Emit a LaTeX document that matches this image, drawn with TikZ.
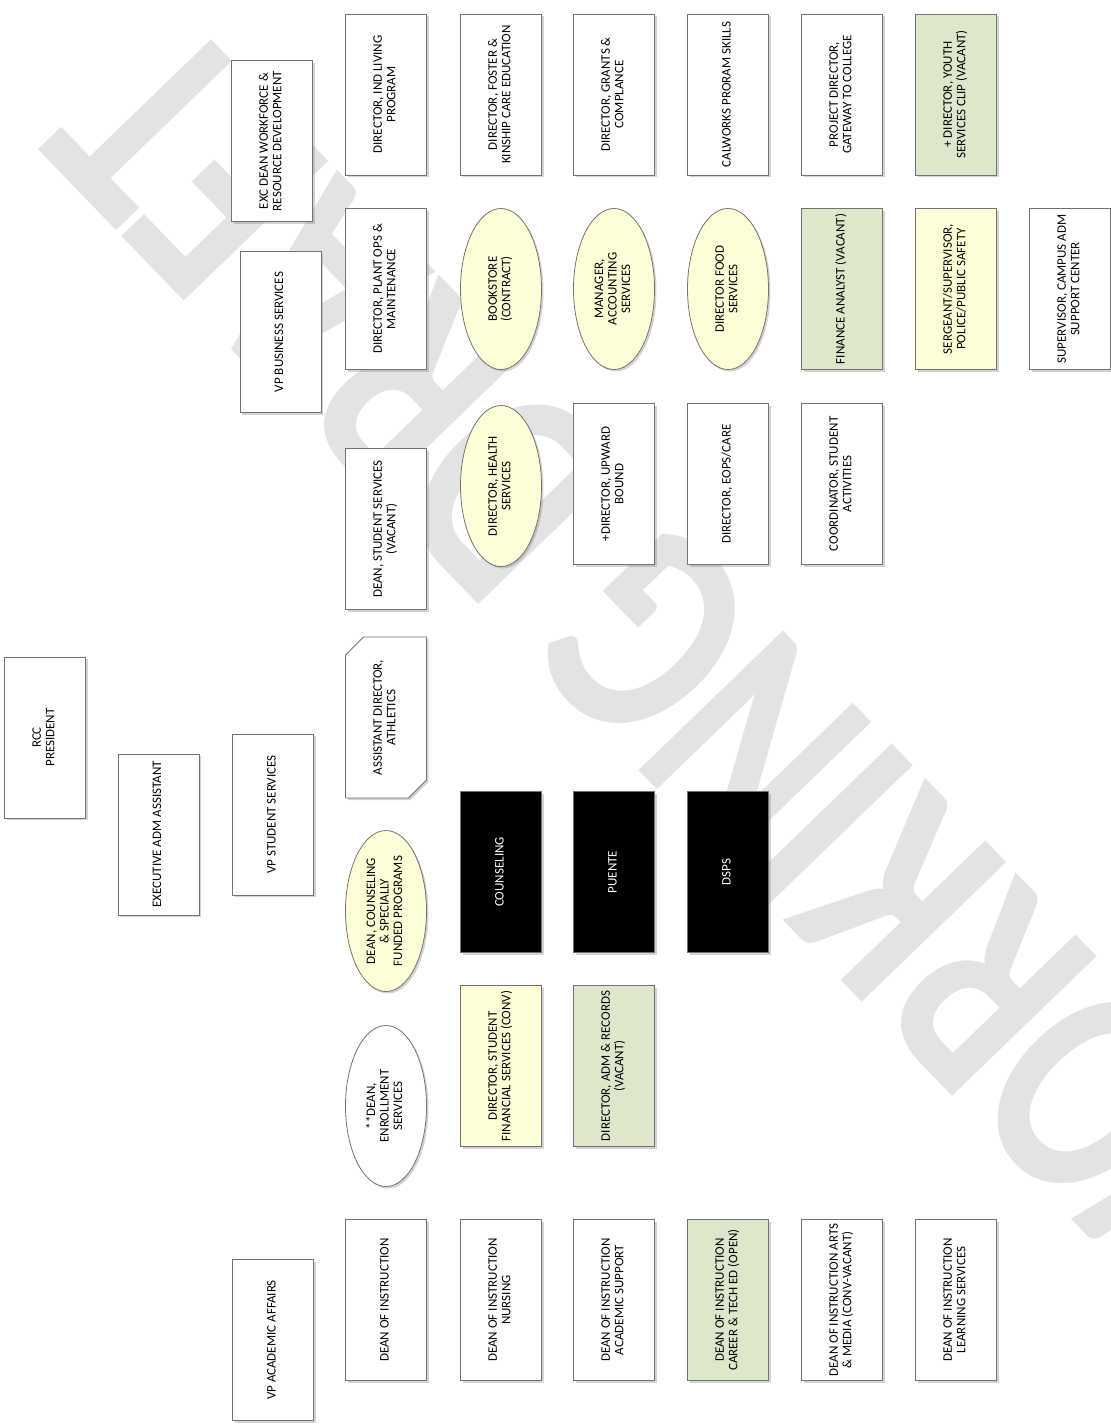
\documentclass[tikz,border=0pt]{standalone}
\usepackage{fontspec}
\setmainfont{Carlito}
\usepackage{graphicx}
\usetikzlibrary{shapes.geometric,shapes.misc,shadows}
\definecolor{rim}{HTML}{737373}
\definecolor{pale}{HTML}{FFFFD7}
\definecolor{sage}{HTML}{DDE7CB}
\definecolor{wm}{HTML}{E3E3E3}
\newcommand{\up}[1]{\rotatebox{90}{\begin{tabular}{@{}c@{}}#1\end{tabular}}}
\tikzset{
  role/.style={draw=rim,line width=0.8pt,fill=white,minimum width=81pt,minimum height=161pt,inner sep=0pt,
    font=\fontsize{13}{13.5}\selectfont,drop shadow={shadow xshift=2pt,shadow yshift=-2pt,opacity=.35}},
  yrole/.style={role,fill=pale},
  grole/.style={role,fill=sage},
  krole/.style={role,fill=black,text=white},
  oval/.style={role,ellipse,fill=pale},
  woval/.style={oval,fill=white},
  snip/.style={role,chamfered rectangle,chamfered rectangle corners={north west,south east},
    chamfered rectangle xsep=9pt,chamfered rectangle ysep=9pt},
  wmark/.style={text=wm,font=\fontsize{310}{310}\selectfont\bfseries,rotate=134,xscale=.76,inner sep=0pt},
}

\begin{document}
\begin{tikzpicture}[x=1pt,y=-1pt]
  \useasboundingbox (0,0) rectangle (1111,1427);
  \clip (0,0) rectangle (1111,1427);
  \node[wmark] (wm) at (700,690) {WORKING DRAFT};

  % top of the tree
  \node[role] (pres) at (45,737.5) {\up{RCC\\PRESIDENT}};
  \node[role] (exa) at (158.5,834.5) {\up{EXECUTIVE ADM ASSISTANT}};
  \node[role] (vpss) at (273,814.5) {\up{VP STUDENT SERVICES}};
  \node[role] (exd) at (272,141) {\up{EXC DEAN WORKFORCE \&\\RESOURCE DEVELOPMENT}};
  \node[role] (vpbs) at (280.5,332) {\up{VP BUSINESS SERVICES}};
  \node[role] (vpaa) at (273,1340) {\up{VP ACADEMIC AFFAIRS}};

  % workforce row
  \node[role] (ind) at (386,94.5) {\up{DIRECTOR, IND LIVING\\PROGRAM}};
  \node[role] (fost) at (501,94.5) {\up{DIRECTOR, FOSTER \&\\KINSHIP CARE EDUCATION}};
  \node[role] (grnt) at (614,94.5) {\up{DIRECTOR, GRANTS \&\\COMPLANCE}};
  \node[role] (calw) at (728,94.5) {\up{CALWORKS PRORAM SKILLS}};
  \node[role] (gate) at (842,94.5) {\up{PROJECT DIRECTOR,\\GATEWAY TO COLLEGE}};
  \node[grole] (yth) at (956,94.5) {\up{+ DIRECTOR, YOUTH\\SERVICES CLIP (VACANT)}};

  % business row
  \node[role] (plant) at (386,289) {\up{DIRECTOR, PLANT OPS \&\\MAINTENANCE}};
  \node[oval] (book) at (501,289) {\up{BOOKSTORE\\(CONTRACT)}};
  \node[oval] (acct) at (614,289) {\up{MANAGER,\\ACCOUNTING\\SERVICES}};
  \node[oval] (food) at (728,289) {\up{DIRECTOR FOOD\\SERVICES}};
  \node[grole] (fin) at (842,289) {\up{FINANCE ANALYST (VACANT)}};
  \node[yrole] (sgt) at (956,289) {\up{SERGEANT/SUPERVISOR,\\POLICE/PUBLIC SAFETY}};
  \node[role] (cams) at (1070,289) {\up{SUPERVISOR, CAMPUS ADM\\SUPPORT CENTER}};

  % student services
  \node[role] (dss) at (386,529) {\up{DEAN, STUDENT SERVICES\\(VACANT)}};
  \node[oval] (hlth) at (501,486) {\up{DIRECTOR, HEALTH\\SERVICES}};
  \node[role] (upw) at (614,484) {\up{+DIRECTOR, UPWARD\\BOUND}};
  \node[role] (eops) at (728,484) {\up{DIRECTOR, EOPS/CARE}};
  \node[role] (act) at (842,484) {\up{COORDINATOR, STUDENT\\ACTIVITIES}};
  \node[snip] (ath) at (386,717.5) {\up{ASSISTANT DIRECTOR,\\ATHLETICS}};
  \node[oval] (dcsp) at (386,911) {\up{DEAN, COUNSELING\\\& SPECIALLY\\FUNDED PROGRAMS}};
  \node[krole] (cou) at (501,872) {\up{COUNSELING}};
  \node[krole] (pue) at (614,872) {\up{PUENTE}};
  \node[krole] (dsps) at (728,872) {\up{DSPS}};
  \node[woval] (enr) at (386,1106) {\up{**DEAN,\\ENROLLMENT\\SERVICES}};
  \node[yrole] (sfs) at (501,1066) {\up{DIRECTOR, STUDENT\\FINANCIAL SERVICES (CONV)}};
  \node[grole] (adm) at (614,1066) {\up{DIRECTOR, ADM \& RECORDS\\(VACANT)}};

  % instruction row
  \node[role] (doi) at (386,1300) {\up{DEAN OF INSTRUCTION}};
  \node[role] (nurs) at (501,1300) {\up{DEAN OF INSTRUCTION\\NURSING}};
  \node[role] (acs) at (614,1300) {\up{DEAN OF INSTRUCTION\\ACADEMIC SUPPORT}};
  \node[grole] (cte) at (728,1300) {\up{DEAN OF INSTRUCTION\\CAREER \& TECH ED (OPEN)}};
  \node[role] (arts) at (842,1300) {\up{DEAN OF INSTRUCTION ARTS\\\& MEDIA (CONV-VACANT)}};
  \node[role] (lrn) at (956,1300) {\up{DEAN OF INSTRUCTION\\LEARNING SERVICES}};
\end{tikzpicture}
\end{document}
